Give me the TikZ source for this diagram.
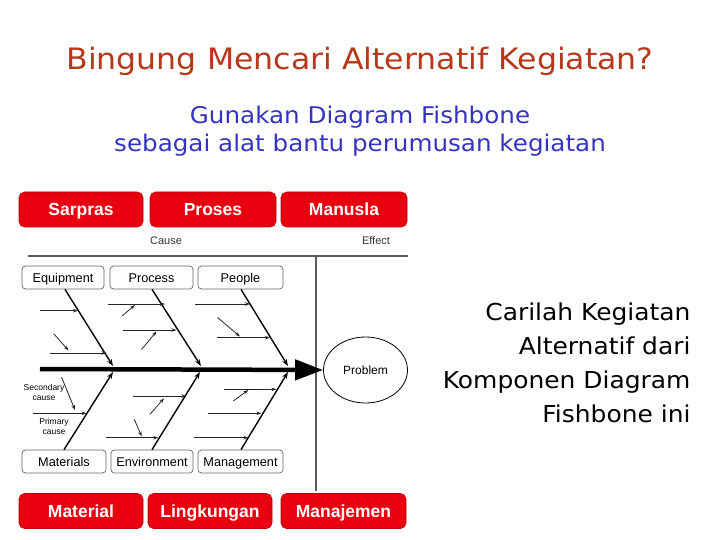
\documentclass[tikz,border=0pt]{standalone}
\usepackage{fontspec}
\setmainfont{DejaVu Sans}[FakeStretch=1.07]
\newfontfamily\arialf{Liberation Sans}
\usetikzlibrary{arrows.meta,shapes.geometric}
\definecolor{titlered}{HTML}{B5381A}
\definecolor{subblue}{HTML}{3434C0}
\definecolor{boxred}{HTML}{E8000F}
\definecolor{linegray}{HTML}{5A5A5A}
\tikzset{
  redbox/.style={draw=boxred!80!black, line width=0.6pt, fill=boxred, rounded corners=5.5pt, minimum height=35pt, text=white, font=\arialf\bfseries\fontsize{17.5}{20}\selectfont, inner sep=0pt, text height=12.6pt, text depth=0pt},
  catbox/.style={draw=gray!80!black, line width=0.7pt, fill=white, rounded corners=3.5pt, minimum height=23pt, font=\arialf\fontsize{12.7}{14}\selectfont, inner sep=0pt, text height=9.1pt, text depth=0pt},
  bone/.style={line width=1.4pt, -{Stealth[length=7pt,width=5pt]}},
  sub/.style={line width=0.8pt, draw=black!85, -{Stealth[length=5pt,width=3.5pt]}},
  small/.style={font=\arialf\fontsize{8.5}{10}\selectfont, align=center, inner sep=0pt},
  gline/.style={draw=linegray, line width=1.3pt}
}
\begin{document}
\begin{tikzpicture}[x=1pt,y=-1pt]
\useasboundingbox (0,0) rectangle (720,540);
% titles
\node[text=titlered, font=\fontsize{29.5}{34}\selectfont] (title) at (360,61.5) {Bingung Mencari Alternatif Kegiatan?};
\node[text=subblue, font=\fontsize{23}{28.3}\selectfont, align=center] (sub) at (360,131) {Gunakan Diagram Fishbone\\sebagai alat bantu perumusan kegiatan};
\node[font=\fontsize{23.3}{34}\selectfont, align=right, anchor=east] (side) at (694,363) {Carilah Kegiatan\\Alternatif dari\\Komponen Diagram\\Fishbone ini};
% red boxes
\node[redbox, minimum width=124pt] (sarpras) at (81,209.5) {Sarpras};
\node[redbox, minimum width=126pt] (proses) at (213,209.5) {Proses};
\node[redbox, minimum width=126pt] (manusia) at (344,209.5) {Manusla};
\node[redbox, minimum width=124pt] (material) at (81,511) {Material};
\node[redbox, minimum width=124pt] (lingkungan) at (210,511) {Lingkungan};
\node[redbox, minimum width=125pt] (manajemen) at (343.5,511) {Manajemen};
% cause / effect
\node[font=\arialf\fontsize{11}{13}\selectfont, text=black!80] (cause) at (166,241) {Cause};
\node[font=\arialf\fontsize{11}{13}\selectfont, text=black!80] (effect) at (376,241) {Effect};
\coordinate (hl) at (28,256);
\coordinate (hr) at (408,256);
\coordinate (vt) at (316,256);
\coordinate (vb) at (316,491);
\draw[gline] (hl) -- (hr);
\draw[gline] (vt) -- (vb);
% category boxes
\node[catbox, minimum width=82pt] (equip) at (63,277.5) {Equipment};
\node[catbox, minimum width=83pt] (process) at (151.5,277.5) {Process};
\node[catbox, minimum width=85pt] (people) at (240.5,277.5) {People};
\node[catbox, minimum width=84pt] (materials) at (64,461.5) {Materials};
\node[catbox, minimum width=82pt] (environment) at (152,461.5) {Environment};
\node[catbox, minimum width=85pt] (management) at (240.5,461.5) {Management};
% problem
\node[draw, line width=0.8pt, ellipse, minimum width=84pt, minimum height=66pt, inner sep=0pt, font=\arialf\fontsize{12}{14}\selectfont] (problem) at (365.5,370) {Problem};
% spine
\coordinate (spinestart) at (40,369);
\draw[line width=4.5pt, -{Triangle[length=28pt,width=20pt]}] (spinestart) -- (problem.west);
% bones top
\coordinate (b1) at (113,366);
\coordinate (b2) at (201,366);
\coordinate (b3) at (288,366);
\draw[bone] (equip.south) ++(2,0) -- (b1);
\draw[bone] (process.south) ++(0.5,0) -- (b2);
\draw[bone] (people.south) ++(0.5,0) -- (b3);
% bones bottom
\coordinate (c1) at (113,372);
\coordinate (c2) at (200,372);
\coordinate (c3) at (288,372);
\draw[bone] (materials.north) -- (c1);
\draw[bone] (environment.north) -- (c2);
\draw[bone] (management.north) ++(0.5,0) -- (c3);
% sub-bones top
\draw[sub] (40,310.7) -- (78,310.7);
\draw[sub] (50,353) -- (106.5,353);
\draw[sub] (54,334) -- (68.5,350.5);
\draw[sub] (107.5,304) -- (165,304);
\draw[sub] (122,316) -- (135,305);
\draw[sub] (123,330) -- (176.5,330);
\draw[sub] (141.5,349.5) -- (156.5,331.5);
\draw[sub] (195,304) -- (250,304);
\draw[sub] (217.5,317.5) -- (240,336.5);
\draw[sub] (216.5,337.7) -- (270,337.7);
% sub-bones bottom
\draw[sub] (33,413.3) -- (86.5,413.3);
\draw[sub] (61.5,377) -- (75,410);
\draw[sub] (133,396) -- (186.5,396);
\draw[sub] (150,414.3) -- (164,398.3);
\draw[sub] (105.5,437.7) -- (158.3,437.7);
\draw[sub] (134.3,419.3) -- (141.7,436.5);
\draw[sub] (224.3,389.3) -- (276.5,389.3);
\draw[sub] (233.3,401) -- (248.3,390);
\draw[sub] (207.7,413.3) -- (261.5,413.3);
\draw[sub] (194.3,437.7) -- (248.3,437.7);
% labels
\node[small] (secondary) at (44,392.5) {Secondary\\cause};
\node[small] (primary) at (54,426) {Primary\\cause};
\end{tikzpicture}
\end{document}
